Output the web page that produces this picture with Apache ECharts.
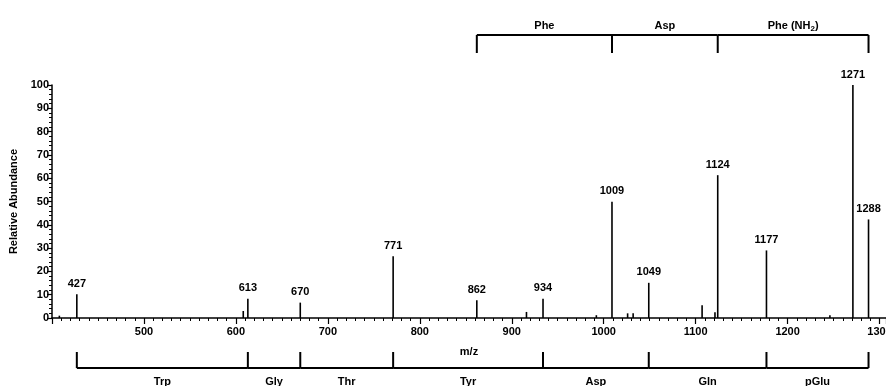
<!DOCTYPE html>
<html>
<head>
<meta charset="utf-8">
<script src="https://cdn.jsdelivr.net/npm/echarts@6/dist/echarts.min.js"></script>
<style>
  html, body { margin: 0; padding: 0; background: #fff; }
  #main { width: 886px; height: 386px; }
</style>
</head>
<body>
<div id="main"></div>
<script>
// peaks
const mz = [408, 427, 608, 613, 670, 771, 862, 916, 934, 992, 1009, 1026, 1032, 1049, 1107, 1121, 1124, 1177, 1246, 1271, 1288]
const abundance = [1, 10.2, 3, 8.3, 6.6, 26.5, 7.6, 2.6, 8.3, 1.2, 49.9, 2, 2, 15.1, 5.5, 2.5, 61.3, 29, 1.2, 100, 42.3]
const labeledPeaks = [427, 613, 670, 771, 862, 934, 1009, 1049, 1124, 1177, 1271, 1288]

// fragment ladders
const topIons = [862, 1009, 1124, 1288]
const topResidues = ['Phe', 'Asp', 'Phe (NH{s|2})']
const bottomIons = [427, 613, 670, 771, 934, 1049, 1177, 1288]
const bottomResidues = ['Trp', 'Gly', 'Thr', 'Tyr', 'Asp', 'Gln', 'pGlu']

const FONT = 'Liberation Sans, Arial, sans-serif'

const peakData = mz.map((m, i) => [m, abundance[i], labeledPeaks.includes(m) ? 1 : 0])

function segs(ions, names, side) {
    return names.map((n, i) => [ions[i], ions[i + 1], n, side, i === 0 ? 1 : 0])
}
const ladderData = segs(topIons, topResidues, 'top').concat(segs(bottomIons, bottomResidues, 'bottom'))

const chart = echarts.init(document.getElementById('main'))
chart.setOption({
    animation: false,
    grid: { left: 52, right: 0, top: 85, bottom: 68, outerBoundsMode: 'none', containLabel: false },
    xAxis: {
        type: 'value',
        min: 400,
        max: 1307,
        interval: 100,
        name: 'm/z',
        nameLocation: 'middle',
        nameGap: 28,
        nameTextStyle: { color: '#000', fontWeight: 'bold', fontSize: 11, fontFamily: FONT },
        axisLine: { lineStyle: { color: '#000', width: 1.5 } },
        axisTick: { length: 6, lineStyle: { color: '#000', width: 1.2 } },
        minorTick: { show: true, splitNumber: 10, length: 3, lineStyle: { color: '#000', width: 1 } },
        axisLabel: {
            showMinLabel: false, color: '#000', fontWeight: 'bold', fontSize: 11, fontFamily: FONT, margin: 8,
            formatter: v => String(v)
        },
        splitLine: { show: false }
    },
    yAxis: {
        type: 'value',
        min: 0,
        max: 100,
        interval: 10,
        name: 'Relative Abundance',
        nameLocation: 'middle',
        nameGap: 24,
        nameTextStyle: { color: '#000', fontWeight: 'bold', fontSize: 11, fontFamily: FONT },
        axisLine: { show: true, lineStyle: { color: '#000', width: 1.5 } },
        axisTick: { show: true, length: 5, lineStyle: { color: '#000', width: 1.2 } },
        minorTick: { show: true, splitNumber: 5, length: 3, lineStyle: { color: '#000', width: 1 } },
        axisLabel: { color: '#000', fontWeight: 'bold', fontSize: 11, fontFamily: FONT, margin: 3 },
        splitLine: { show: false }
    },
    series: [
        {
            type: 'custom',
            clip: false,
            data: peakData,
            renderItem: (params, api) => {
                const base = api.coord([api.value(0), 0])
                const top = api.coord([api.value(0), api.value(1)])
                const children = [{
                    type: 'line',
                    shape: { x1: base[0], y1: base[1], x2: top[0], y2: top[1] },
                    style: { stroke: '#000', lineWidth: 1.6 }
                }]
                if (api.value(2)) {
                    children.push({
                        type: 'text',
                        style: {
                            text: String(api.value(0)), x: top[0], y: top[1] - 5,
                            align: 'center', verticalAlign: 'bottom',
                            fill: '#000', font: 'bold 11px ' + FONT
                        }
                    })
                }
                return { type: 'group', children }
            }
        },
        {
            type: 'custom',
            clip: false,
            data: ladderData,
            renderItem: (params, api) => {
                const d = ladderData[params.dataIndex]
                const x1 = api.coord([d[0], 0])[0]
                const x2 = api.coord([d[1], 0])[0]
                const y0 = api.coord([400, 0])[1]
                const y100 = api.coord([400, 100])[1]
                let lineY, tickY, textY
                if (d[3] === 'top') {
                    lineY = y100 - 50; tickY = y100 - 32; textY = y100 - 59
                } else {
                    lineY = y0 + 50; tickY = y0 + 34; textY = y0 + 64
                }
                const st = { stroke: '#000', lineWidth: 2 }
                const children = [
                    { type: 'line', shape: { x1, y1: lineY, x2, y2: lineY }, style: st },
                    { type: 'line', shape: { x1: x2, y1: lineY, x2: x2, y2: tickY }, style: st },
                    {
                        type: 'text',
                        style: {
                            text: '{a|' + d[2].replace('{s|2}', '}{s|2}{a|') + '}',
                            x: (x1 + x2) / 2, y: textY,
                            align: 'center', verticalAlign: 'middle',
                            rich: {
                                a: { fill: '#000', fontWeight: 'bold', fontSize: 11, fontFamily: FONT },
                                s: { fill: '#000', fontWeight: 'bold', fontSize: 8, fontFamily: FONT, padding: [6, 0, 0, 0] }
                            }
                        }
                    }
                ]
                if (d[4]) {
                    children.push({ type: 'line', shape: { x1, y1: lineY, x2: x1, y2: tickY }, style: st })
                }
                return { type: 'group', children }
            }
        }
    ]
})
</script>
</body>
</html>
